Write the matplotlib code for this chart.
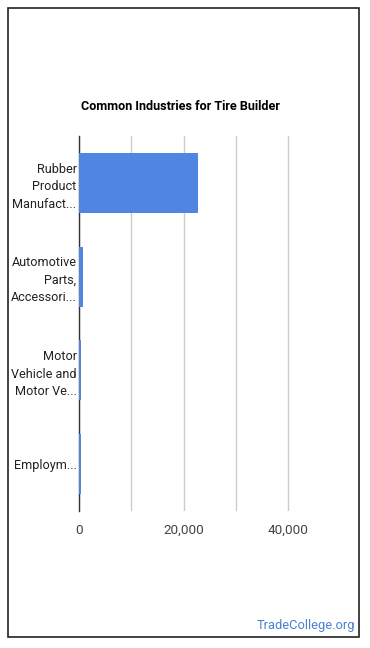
import matplotlib.pyplot as plt
from matplotlib.patches import Rectangle

plt.rcParams['font.family'] = ['Roboto', 'DejaVu Sans']

industries = ["Rubber\nProduct\nManufact...", "Automotive\nParts,\nAccessori...",
              "Motor\nVehicle and\nMotor Ve...", "Employm..."]
workers = [22750, 760, 300, 250]
ticks = [0, 20000, 40000]
tick_labels = ["0", "20,000", "40,000"]

fig = plt.figure(figsize=(3.7, 6.48), dpi=100)
ax = fig.add_axes([79.3 / 370, 1 - 511 / 648, (340 - 79.3) / 370, (511 - 136) / 648])

ypos = range(len(industries))
ax.barh(ypos, workers, height=0.64, color='#5086e1', zorder=5)
ax.set_ylim(len(industries) - 0.5, -0.5)
ax.set_xlim(0, 50000)

ax.set_yticks(list(ypos))
ax.set_yticklabels(industries, fontsize=9.1, color='#222222', linespacing=1.45)
ax.set_xticks(ticks)
ax.set_xticklabels(tick_labels, fontsize=9.7, color='#444444')
ax.set_xticks([10000, 30000], minor=True)
ax.tick_params(axis='y', length=0, pad=2)
ax.tick_params(axis='x', which='both', length=0, pad=9)

ax.grid(axis='x', which='both', color='#cccccc', linewidth=1, zorder=0)
for s in ['top', 'right', 'bottom']:
    ax.spines[s].set_visible(False)
ax.spines['left'].set_color('#333333')
ax.spines['left'].set_linewidth(1)
ax.spines['left'].set_zorder(4)

fig.text(180 / 370, 1 - 107 / 648, "Common Industries for Tire Builder",
         ha='center', va='center', fontsize=9.1, fontweight='bold', color='#000000')
fig.text(355 / 370, 1 - 626 / 648, "TradeCollege.org", ha='right', va='center',
         fontsize=9.3, color='#4a80d4')

fig.patches.append(Rectangle((8 / 370, 1 - 637 / 648), 351 / 370, 629 / 648,
                             transform=fig.transFigure, fill=False,
                             edgecolor='#222222', linewidth=1.2))

fig.savefig('out.png', dpi=100)
